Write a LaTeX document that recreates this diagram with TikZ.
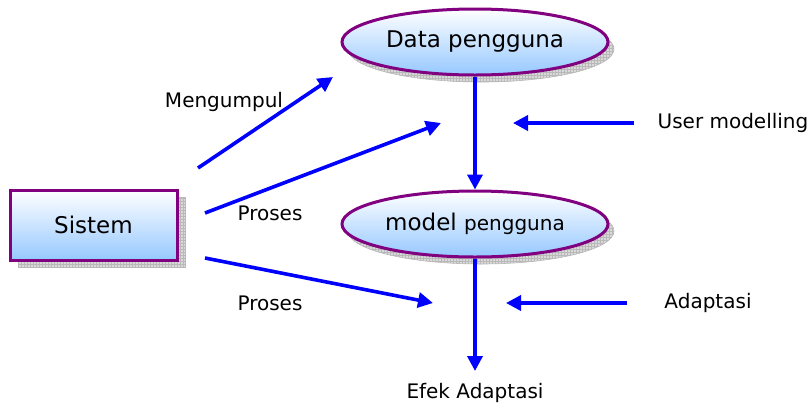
\documentclass[tikz,border=0pt]{standalone}
\usepackage{fontspec}
\setmainfont{DejaVu Sans}
\usetikzlibrary{shapes.geometric,arrows.meta,patterns}
\definecolor{boxblue}{RGB}{150,200,255}
\definecolor{edgepurple}{RGB}{128,0,128}
\definecolor{arrowblue}{RGB}{0,0,255}
\tikzset{
  shadowshape/.style={fill=gray!30, draw=gray!55, line width=0.6pt},
  shadowpat/.style={pattern=grid, pattern color=gray!55},
  mainshape/.style={draw=edgepurple, line width=3pt, top color=white, bottom color=boxblue, inner sep=0pt, font=\fontsize{23}{27}\selectfont},
  ellnode/.style={mainshape, ellipse, minimum width=266pt, minimum height=66pt},
  boxnode/.style={mainshape, rectangle, minimum width=167pt, minimum height=70pt},
  lbl/.style={font=\fontsize{20}{24}\selectfont, inner sep=0pt},
  flow/.style={draw=arrowblue, line width=3.6pt, -{Triangle[length=15pt,width=15pt]}, shorten >=0pt}
}
\begin{document}
\begin{tikzpicture}[x=1pt,y=-1pt]
\useasboundingbox (0,0) rectangle (812,408);
% shadows
\fill[shadowshape] (481,49) ellipse [x radius=133, y radius=33];
\fill[shadowpat] (481,49) ellipse [x radius=133, y radius=33];
\fill[shadowshape] (481,231) ellipse [x radius=133, y radius=33];
\fill[shadowpat] (481,231) ellipse [x radius=133, y radius=33];
\fill[shadowshape] (18,197) rectangle (185,267);
\fill[shadowpat] (18,197) rectangle (185,267);
% nodes
\node[ellnode] (dp) at (475,42) {Data pengguna};
\node[ellnode] (mp) at (475,224) {model {\fontsize{20}{24}\selectfont pengguna}};
\node[boxnode] (sis) at (93.5,225) {Sistem};
% labels
\node[lbl] (mengumpul) at (224,102) {Mengumpul};
\node[lbl] (proses1) at (270,213) {Proses};
\node[lbl] (proses2) at (270,303) {Proses};
\node[lbl] (usermod) at (733,123) {User modelling};
\node[lbl] (adapt) at (708,303) {Adaptasi};
\node[lbl] (efek) at (475,393) {Efek Adaptasi};
% coordinates
\coordinate (a1s) at (198,168);
\coordinate (a1e) at (333,77);
\coordinate (a2s) at (205,213);
\coordinate (a2e) at (441,123);
\coordinate (a3s) at (205,258);
\coordinate (a3e) at (433,303);
\coordinate (a4s) at (634,123);
\coordinate (a4e) at (513,123);
\coordinate (a5s) at (627,303);
\coordinate (a5e) at (506,303);
\coordinate (a6e) at (475,371);
% arrows
\draw[flow] (dp.south) -- (mp.north);
\draw[flow] (mp.south) -- (a6e);
\draw[flow] (a1s) -- (a1e);
\draw[flow] (a2s) -- (a2e);
\draw[flow] (a3s) -- (a3e);
\draw[flow] (a4s) -- (a4e);
\draw[flow] (a5s) -- (a5e);
\end{tikzpicture}
\end{document}
